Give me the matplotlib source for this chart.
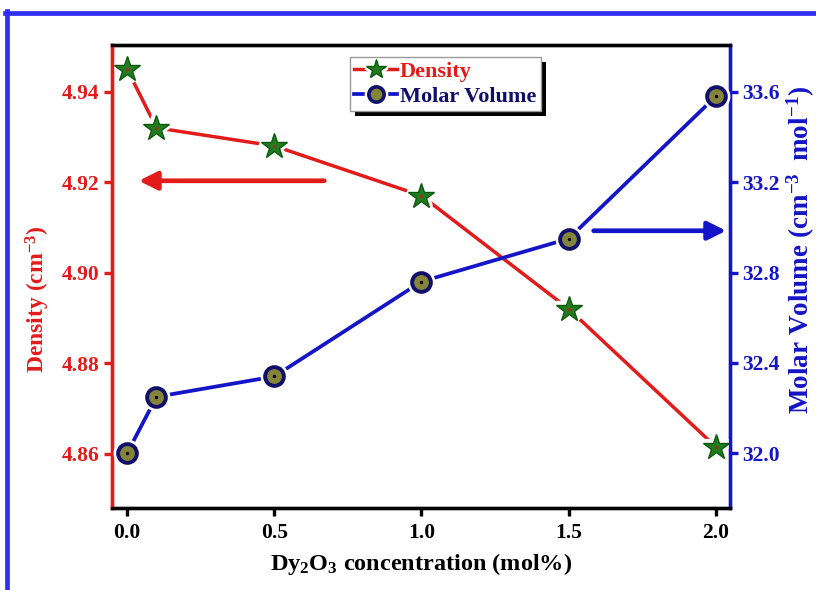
import matplotlib
matplotlib.use("Agg")
import matplotlib.pyplot as plt
from matplotlib.lines import Line2D
from matplotlib.patches import Rectangle
from matplotlib.transforms import IdentityTransform
from matplotlib.legend_handler import HandlerTuple

plt.rcParams['font.family'] = ['Liberation Serif', 'DejaVu Serif']
plt.rcParams['font.weight'] = 'bold'
plt.rcParams['mathtext.fontset'] = 'custom'
plt.rcParams['mathtext.rm'] = 'Liberation Serif:bold'
plt.rcParams['mathtext.bf'] = 'Liberation Serif:bold'
plt.rcParams['mathtext.it'] = 'Liberation Serif:bold'

# Data
conc = [0.0, 0.1, 0.5, 1.0, 1.5, 2.0]
density = [4.945, 4.932, 4.928, 4.917, 4.892, 4.8615]
molar_volume = [32.0, 32.25, 32.34, 32.76, 32.95, 33.58]

density_ticks = [4.86, 4.88, 4.90, 4.92, 4.94]
volume_ticks = [32.0, 32.4, 32.8, 33.2, 33.6]
x_ticks = [0.0, 0.5, 1.0, 1.5, 2.0]

RED = '#e21b1b'
BLUE = '#1414c8'
NAVY = '#10106a'
STAR_FILL, STAR_EDGE = '#1f7d1f', '#0d5a0d'
CIRC_FILL = '#85853a'

fig = plt.figure(figsize=(8.16, 5.90), dpi=100)
ax1 = fig.add_axes([0.1373, 0.139, 0.7573, 0.7847])
ax2 = ax1.twinx()

# Density series: line with gaps around the star markers
ax1.plot(conc, density, color=RED, lw=2.5, zorder=2)
ax1.plot(conc, density, ls='none', marker='*', ms=19, mfc='white', mec='white',
         mew=6, zorder=3)
ax1.plot(conc, density, ls='none', marker='*', ms=19, mfc=STAR_FILL, mec=STAR_EDGE,
         mew=1.0, zorder=4)
ax1.plot(conc, density, ls='none', marker='o', ms=2.5, mfc='#a0301a', mec='none',
         zorder=5)

# Molar volume series: line with gaps around the circle markers
ax2.plot(conc, molar_volume, color=BLUE, lw=2.7, zorder=2)
ax2.plot(conc, molar_volume, ls='none', marker='o', ms=15, mfc='white', mec='white',
         mew=5, zorder=3)
ax2.plot(conc, molar_volume, ls='none', marker='o', ms=13.5, mfc=CIRC_FILL, mec=NAVY,
         mew=2.8, zorder=4)
ax2.plot(conc, molar_volume, ls='none', marker='o', ms=2.5, mfc='black', mec='none',
         zorder=5)

ax1.set_xlim(-0.051, 2.048)
ax1.set_ylim(4.848, 4.9503)
ax2.set_ylim(31.758, 33.807)

ax1.set_xticks(x_ticks)
ax1.set_xticklabels([f'{v:.1f}' for v in x_ticks])
ax1.set_yticks(density_ticks)
ax1.set_yticklabels([f'{v:.2f}' for v in density_ticks])
ax2.set_yticks(volume_ticks)
ax2.set_yticklabels([f'{v:.1f}' for v in volume_ticks])

for ax in (ax1, ax2):
    for s in ax.spines.values():
        s.set_linewidth(2.4)
    ax.spines['top'].set_color('black')
    ax.spines['bottom'].set_color('black')
    ax.spines['left'].set_color(RED)
    ax.spines['right'].set_color(BLUE)

ax1.tick_params(axis='x', direction='out', length=6, width=2.4, colors='black',
                labelsize=15.5, pad=5)
ax1.tick_params(axis='y', direction='out', length=6, width=2.4, colors=RED,
                labelsize=15.5, pad=3)
ax2.tick_params(axis='y', direction='out', length=6, width=2.4, colors=BLUE,
                labelsize=15.5, pad=3)
for lab in ax1.get_xticklabels() + ax1.get_yticklabels() + ax2.get_yticklabels():
    lab.set_fontweight('bold')

ax1.set_xlabel('Dy$_2$O$_3$ concentration (mol%)', fontsize=17.5, fontweight='bold')
ax1.xaxis.set_label_coords(0.5, -0.093)
ax1.set_ylabel('Density (cm$^{-3}$)', fontsize=17, fontweight='bold', color=RED)
ax1.yaxis.set_label_coords(-0.097, 0.45)
ax2.set_ylabel('Molar Volume (cm$^{-3}$\u2009 mol$^{-1}$)', fontsize=19.5,
               fontweight='bold', color=BLUE, rotation=90)
ax2.yaxis.set_label_coords(1.089, 0.557)

# Direction arrows pointing at each series' axis
arrow_style = '-|>,head_length=1.1,head_width=0.55'
ax1.annotate('', xy=(0.04, 4.9203), xytext=(0.67, 4.9203),
             arrowprops=dict(arrowstyle=arrow_style, color=RED, lw=3.4,
                             shrinkA=0, shrinkB=0), zorder=6)
ax2.annotate('', xy=(2.035, 32.985), xytext=(1.585, 32.985),
             arrowprops=dict(arrowstyle=arrow_style, color=BLUE, lw=3.4,
                             shrinkA=0, shrinkB=0), zorder=6)

# Legend with gapped line handles
d_line = Line2D([], [], color=RED, lw=2.5)
d_gap = Line2D([], [], ls='none', marker='*', ms=15, mfc='white', mec='white', mew=5)
d_mark = Line2D([], [], ls='none', marker='*', ms=15, mfc=STAR_FILL, mec=STAR_EDGE)
v_line = Line2D([], [], color=BLUE, lw=2.7)
v_gap = Line2D([], [], ls='none', marker='o', ms=12, mfc='white', mec='white', mew=5)
v_mark = Line2D([], [], ls='none', marker='o', ms=11, mfc=CIRC_FILL, mec=NAVY,
                mew=2.6)
leg = ax2.legend([(d_line, d_gap, d_mark), (v_line, v_gap, v_mark)],
                 ['Density', 'Molar Volume'],
                 handler_map={tuple: HandlerTuple(ndivide=1, pad=0)},
                 loc='upper left', bbox_to_anchor=(0.385, 0.974),
                 fontsize=16, frameon=True, fancybox=False, framealpha=1.0,
                 handlelength=1.9, handletextpad=0.15, borderpad=0.2,
                 labelspacing=0.2, borderaxespad=0, edgecolor='#999999')
leg.get_frame().set_linewidth(1.0)
leg.set_zorder(10)
for txt, c in zip(leg.get_texts(), [RED, NAVY]):
    txt.set_color(c)
    txt.set_fontweight('bold')

# Solid black drop shadow behind the legend box
fig.canvas.draw()
bb = leg.get_window_extent()
ax2.add_patch(Rectangle((bb.x0 + 5, bb.y0 - 5), bb.width, bb.height,
                        transform=IdentityTransform(), facecolor='black',
                        edgecolor='none', clip_on=False, zorder=9))

# Blue frame around the figure
fig.add_artist(Line2D([5 / 816, 1.0], [1 - 12.5 / 590, 1 - 12.5 / 590],
                      color='#2e2ef5', lw=3.4, transform=fig.transFigure))
fig.add_artist(Line2D([7 / 816, 7 / 816], [0.0, 1 - 10.5 / 590],
                      color='#2e2ef5', lw=3.4, transform=fig.transFigure))

fig.savefig('out.png', dpi=100)
